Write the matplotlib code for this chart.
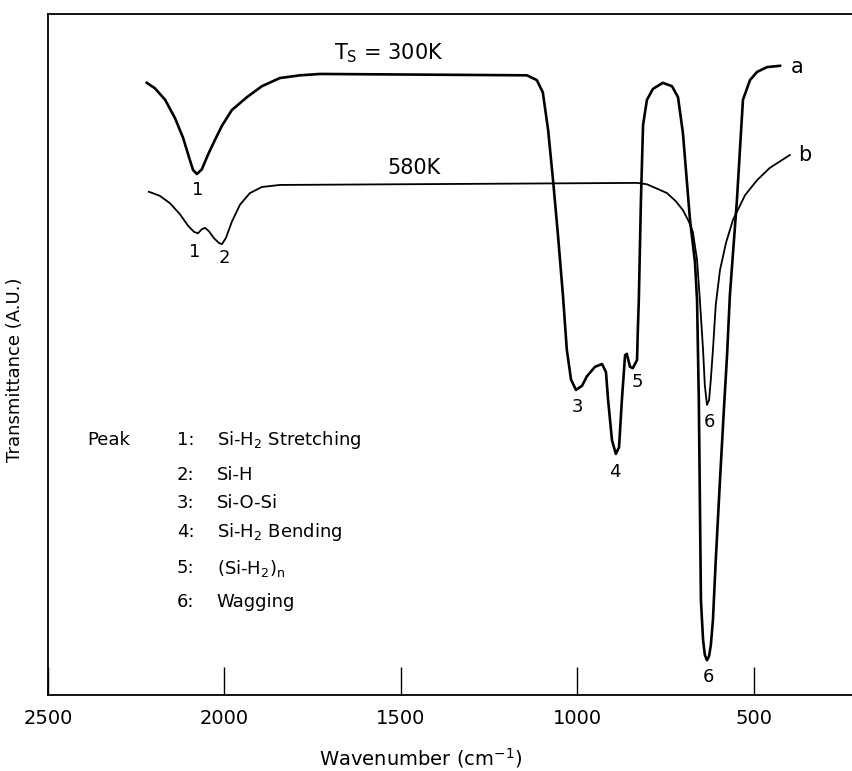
import matplotlib.pyplot as plt

# curve a: Ts = 300K
wn_a = [2220, 2197, 2168, 2140, 2117, 2100, 2089, 2078, 2064, 2047, 2027, 2007, 1979, 1936,
        1894, 1843, 1786, 1729, 1143, 1115, 1098, 1083, 1069, 1055, 1041, 1030, 1018, 1004,
        987, 973, 950, 930, 919, 913, 902, 891, 882, 874, 865, 860, 851, 843, 831, 829, 826,
        820, 814, 803, 786, 758, 732, 715, 701, 681, 667, 661, 656, 653, 650, 644, 639, 633,
        627, 622, 616, 608, 596, 585, 576, 568, 548, 531, 511, 491, 463, 426]
t_a = [89.9, 89.1, 87.4, 84.7, 81.8, 78.9, 77.1, 76.5, 77.2, 79.3, 81.5, 83.6, 85.9, 87.8,
       89.4, 90.6, 91.0, 91.2, 91.0, 90.3, 88.5, 83.0, 75.6, 67.5, 58.7, 50.7, 46.3, 44.8,
       45.4, 46.8, 48.2, 48.6, 47.4, 43.3, 37.4, 35.4, 36.4, 43.3, 49.9, 50.1, 48.2, 48.0, 49.2, 53.2, 58.0,
       72.7, 83.7, 87.4, 89.0, 89.9, 89.4, 87.8, 82.5, 69.8, 63.6, 58.0, 43.3, 28.6, 13.9, 8.1, 5.9, 5.1,
       5.7, 7.3, 11.0, 19.8, 31.6, 41.9, 49.9, 58.7, 72.7, 87.4, 90.3, 91.5, 92.2, 92.4]

# curve b: 580K
wn_b = [2214, 2183, 2154, 2126, 2103, 2086, 2075, 2064, 2055, 2044, 2030, 2016, 2007, 1996,
        1979, 1956, 1928, 1894, 1843, 831, 803, 772, 746, 721, 701, 684, 673, 661, 653, 644,
        639, 633, 627, 622, 616, 608, 596, 579, 559, 525, 491, 455, 398]
t_b = [73.9, 73.3, 72.2, 70.6, 68.9, 68.0, 67.8, 68.4, 68.6, 68.1, 67.1, 66.4, 66.2, 67.1,
       69.5, 72.0, 73.7, 74.6, 74.9, 75.2, 75.0, 74.3, 73.7, 72.5, 71.2, 69.5, 68.0, 63.9, 58.0, 50.7,
       45.5, 42.6, 43.3, 46.3, 50.7, 57.3, 62.4, 66.4, 69.8, 73.4, 75.6, 77.4, 79.3]

peak_labels = ['1', '3', '4', '5', '6', '6', '1', '2']
peak_wn = [2075, 1001, 894, 831, 625, 630, 2084, 2001]
peak_t = [74.2, 42.3, 32.7, 46.0, 40.1, 2.6, 65.1, 64.2]

legend_nums = ['1:', '2:', '3:', '4:', '5:', '6:']
legend_names = [r'Si-H$_2$ Stretching', 'Si-H', 'Si-O-Si', r'Si-H$_2$ Bending',
                r'(Si-H$_2$)$_n$', 'Wagging']

plt.rcParams['mathtext.default'] = 'regular'
plt.rcParams['font.family'] = ['DejaVu Sans']

fig = plt.figure(figsize=(8.52, 7.71), dpi=100)
ax = fig.add_axes([0.0563, 0.0986, 0.9437, 0.8832])

ax.plot(wn_a, t_a, color='black', lw=1.9, solid_joinstyle='round')
ax.plot(wn_b, t_b, color='black', lw=1.3, solid_joinstyle='round')

for lab, x, y in zip(peak_labels, peak_wn, peak_t):
    ax.text(x, y, lab, fontsize=13, ha='center', va='center')

ax.text(1534, 94.3, r'T$_S$ = 300K', fontsize=15, ha='center', va='center')
ax.text(1463, 77.4, '580K', fontsize=15, ha='center', va='center')
ax.text(378, 92.2, 'a', fontsize=15, ha='center', va='center')
ax.text(355, 79.3, 'b', fontsize=15, ha='center', va='center')

rows = [0.374, 0.323, 0.282, 0.239, 0.186, 0.137]
ax.text(0.0485, rows[0], 'Peak', fontsize=13, transform=ax.transAxes, va='center')
for num, name, y in zip(legend_nums, legend_names, rows):
    ax.text(0.160, y, num, fontsize=13, transform=ax.transAxes, va='center')
    ax.text(0.210, y, name, fontsize=13, transform=ax.transAxes, va='center')

ax.set_xlim(2500, 222)
ax.set_ylim(0, 100)
ax.set_xticks([2500, 2000, 1500, 1000, 500])
ax.set_yticks([])
ax.tick_params(axis='x', direction='in', length=20, width=1.0, pad=10, labelsize=14)
ax.spines['right'].set_visible(False)
for s in ['left', 'top', 'bottom']:
    ax.spines[s].set_linewidth(1.3)

ax.set_xlabel(r'Wavenumber (cm$^{-1}$)', fontsize=14)
ax.xaxis.set_label_coords(0.463, -0.075)
ax.set_ylabel('Transmittance (A.U.)', fontsize=13)
ax.yaxis.set_label_coords(-0.03, 0.477)

fig.savefig('out.png', dpi=100)
